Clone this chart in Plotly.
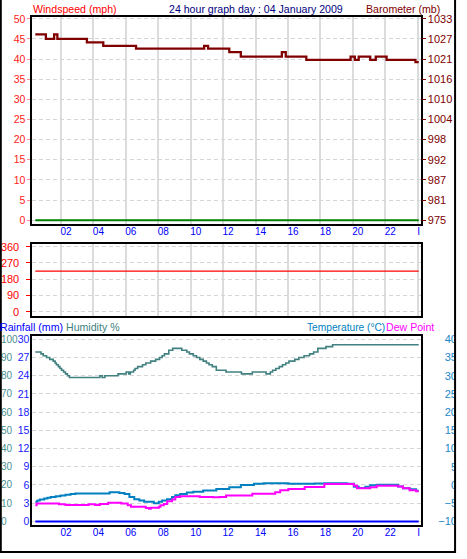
import plotly.graph_objects as go

W, H = 467, 559

# ---------------- data ----------------
hour_ticks = [2, 4, 6, 8, 10, 12, 14, 16, 18, 20, 22, 24]
hour_labels = ["02", "04", "06", "08", "10", "12", "14", "16", "18", "20", "22", "I\u00a0\u00a0\u00a0"]

wind_t = [0.42, 24.06]
wind_v = [0, 0]

baro_t = [0.42, 1.07, 1.58, 1.78, 3.60, 4.61, 6.63, 10.83, 11.07, 12.38, 13.09,
          15.62, 15.86, 17.13, 19.86, 20.12, 20.36, 21.07, 21.41, 22.08, 23.86, 24.06]
baro_v = [1028.5, 1027.2, 1028.5, 1027.2, 1026.2, 1025.2, 1024.4, 1025.2, 1024.4, 1023.4, 1022.1,
          1023.4, 1022.1, 1021.2, 1022.1, 1021.2, 1022.1, 1021.2, 1022.1, 1021.2, 1020.5, 1020.5]

dir_t = [0.42, 24.06]
dir_v = [224, 224]

rain_t = [0.42, 24.06]
rain_v = [0, 0]

hum_t = [0.42, 0.77, 0.91, 1.11, 1.31, 1.52, 1.64, 1.72, 1.84, 1.94, 2.04, 2.16, 2.28, 2.40, 2.52,
         4.40, 4.54, 4.71, 5.52, 6.02, 6.18, 6.28, 6.48, 6.57, 6.73, 7.03, 7.23, 7.53, 7.84, 8.08,
         8.24, 8.38, 8.65, 8.89, 9.45, 9.76, 9.92, 10.16, 10.36, 10.56, 10.77, 10.97, 11.13, 11.33,
         11.58, 12.18, 13.13, 13.80, 14.65, 14.91, 15.05, 15.25, 15.46, 15.66, 15.86, 16.06, 16.42,
         16.67, 16.99, 17.33, 17.58, 17.84, 18.34, 18.75, 24.06]
hum_v = [93, 92, 91, 90, 89, 88, 87, 86, 85, 84, 83, 82, 81, 80, 79,
         80, 79, 80, 81, 82, 81, 82, 83, 84, 85, 86, 87, 88, 89, 90,
         91, 92, 94, 95, 94, 93, 92, 91, 90, 89, 88, 87, 86, 85,
         83, 82, 81, 82, 81, 82, 83, 84, 85, 86, 87, 88, 89,
         90, 91, 92, 93, 95, 96, 97, 97]

temp_t = [0.42, 0.55, 0.70, 0.97, 1.17, 1.37, 1.68, 1.98, 2.28, 2.59, 2.89, 5.00, 5.60, 5.92,
          6.22, 6.52, 6.83, 7.13, 7.73, 8.03, 8.24, 8.54, 8.85, 9.05, 9.35, 9.76, 10.16, 10.77,
          11.58, 12.38, 13.09, 13.90, 14.50, 16.02, 17.64, 18.24, 19.65, 20.06, 20.36, 20.77,
          21.07, 21.47, 22.79, 23.09, 23.50, 23.90, 24.06]
temp_v = [-4.6, -4.3, -4.0, -3.7, -3.5, -3.3, -3.1, -2.9, -2.7, -2.5, -2.35, -2.0, -2.2, -2.5,
          -3.3, -3.9, -4.3, -4.6, -5.0, -4.6, -4.3, -3.9, -3.3, -2.85, -2.5, -2.1, -1.85, -1.5,
          -1.1, -0.6, -0.03, 0.33, 0.5, 0.33, 0.4, 0.5, 0.33, -0.5, -0.85, -0.5,
          -0.1, 0.05, -0.45, -0.9, -1.2, -1.6, -1.6]

dew_t = [0.42, 0.50, 1.88, 2.28, 3.70, 4.10, 4.40, 4.91, 5.72, 6.12, 6.32, 7.23, 7.43, 7.54,
         8.04, 8.14, 8.34, 8.55, 8.85, 9.05, 9.35, 10.56, 11.37, 11.78, 12.18, 13.80, 15.21,
         15.52, 16.02, 17.03, 18.24, 20.06, 20.26, 21.07, 21.47, 22.79, 23.09, 23.50, 23.90, 24.06]
dew_v = [-5.6, -5.1, -5.3, -5.5, -5.3, -5.5, -5.25, -4.9, -5.1, -5.6, -6.0, -6.3, -6.5, -6.25,
         -6.0, -5.6, -5.2, -4.5, -4.0, -3.3, -3.1, -3.3, -3.35, -3.3, -2.9, -2.4, -2.0,
         -1.45, -1.1, -0.55, 0.3, -0.2, -0.9, -0.6, -0.2, -0.45, -0.9, -1.45, -1.7, -1.7]

wind_ticks = list(range(0, 51, 5))
baro_ticks = [975 + 5.8 * k for k in range(11)]
baro_labels = ["975", "981", "987", "992", "998", "1004", "1010", "1016", "1021", "1027", "1033"]
dir_ticks = [0, 90, 180, 270, 360]
compass_labels = ["N", "E", "S", "W", "N"]
rain_ticks = list(range(0, 31, 3))
hum_ticks = list(range(0, 101, 10))
temp_ticks = list(range(-10, 41, 5))

# ---------------- geometry helpers ----------------
FONT = "Liberation Sans"


def px_x(p):
    return p / W


def px_y(p):
    return (H - p) / H


X_DOM = [px_x(33), px_x(428)]
X_RANGE = [0.242, 24.18]
P1 = [px_y(222), px_y(13)]
P2 = [px_y(315), px_y(243)]
P3 = [px_y(527), px_y(336)]

fig = go.Figure()

fig.add_trace(go.Scatter(x=wind_t, y=wind_v, xaxis="x", yaxis="y", mode="lines",
                         line=dict(color="#008000", width=2)))
fig.add_trace(go.Scatter(x=baro_t, y=baro_v, xaxis="x", yaxis="y2", mode="lines",
                         line=dict(color="#800000", width=2.3, shape="hv")))
fig.add_trace(go.Scatter(x=dir_t, y=dir_v, xaxis="x2", yaxis="y3", mode="lines",
                         line=dict(color="#ff0000", width=1.3)))
fig.add_trace(go.Scatter(x=rain_t, y=rain_v, xaxis="x3", yaxis="y5", mode="lines",
                         line=dict(color="#0000ff", width=2)))
fig.add_trace(go.Scatter(x=hum_t, y=hum_v, xaxis="x3", yaxis="y6", mode="lines",
                         line=dict(color="#408080", width=1.6, shape="hv")))
fig.add_trace(go.Scatter(x=temp_t, y=temp_v, xaxis="x3", yaxis="y7", mode="lines",
                         line=dict(color="#0080c0", width=2, shape="hv")))
fig.add_trace(go.Scatter(x=dew_t, y=dew_v, xaxis="x3", yaxis="y7", mode="lines",
                         line=dict(color="#ff00ff", width=2, shape="hv")))

frame = dict(showline=True, mirror=True, linecolor="black", linewidth=2, zeroline=False)
vgrid = dict(showgrid=True, gridcolor="#dcdcdc", gridwidth=2)
hgrid = dict(showgrid=True, gridcolor="#d6d6d6", gridwidth=1, griddash="4px,3px")
xtickfont = dict(family=FONT, size=10, color="#0000ff")


def ytickfont(c, s=11):
    return dict(family=FONT, size=s, color=c)


fig.update_layout(
    width=W, height=H, autosize=False,
    margin=dict(l=0, r=0, t=0, b=0),
    paper_bgcolor="white", plot_bgcolor="white",
    showlegend=False,
    xaxis=dict(domain=X_DOM, range=X_RANGE, anchor="y", tickmode="array",
               tickvals=hour_ticks, ticktext=hour_labels, ticks="", tickfont=xtickfont,
               ticklabelshift=5, ticklabelstandoff=-3, **vgrid, **frame),
    xaxis2=dict(domain=X_DOM, range=X_RANGE, anchor="y3", matches="x", tickvals=hour_ticks,
                showticklabels=False, ticks="", **vgrid, **frame),
    xaxis3=dict(domain=X_DOM, range=X_RANGE, anchor="y5", matches="x", tickmode="array",
                tickvals=hour_ticks, ticktext=hour_labels, ticks="", tickfont=xtickfont,
                ticklabelshift=5, ticklabelstandoff=-3, showgrid=False, **frame),
    yaxis=dict(domain=P1, range=[-0.86, 50.49], anchor="x", tickvals=wind_ticks,
               ticks="outside", ticklen=3, tickcolor="#ff9090", tickwidth=1,
               tickfont=ytickfont("#ff1a1a", 10.5), **hgrid, **frame),
    yaxis2=dict(overlaying="y", side="right", anchor="x", range=[975 - 0.86 * 1.16, 975 + 50.49 * 1.16],
                tickvals=baro_ticks, ticktext=baro_labels, ticks="outside", ticklen=4,
                tickcolor="#800000", tickfont=ytickfont("#800000"), showgrid=False,
                zeroline=False, showline=False),
    yaxis3=dict(domain=P2, range=[-22, 372.5], anchor="x2", tickvals=dir_ticks,
                ticks="outside", ticklen=4, tickcolor="#ff0000",
                tickfont=ytickfont("#ff0000"), ticklabelstandoff=5, **hgrid, **frame),
    yaxis4=dict(overlaying="y3", side="right", anchor="x2", range=[-22, 372.5],
                tickvals=dir_ticks, ticktext=compass_labels, ticks="",
                tickfont=dict(family=FONT, size=12, color="#ff0000"), ticklabelstandoff=4,
                showgrid=False, zeroline=False, showline=False),
    yaxis5=dict(domain=P3, range=[-0.65, 30.49], anchor="x3", tickvals=rain_ticks, ticks="",
                tickfont=ytickfont("#2020ff", 10.5), ticklabelstandoff=-1, **hgrid, **frame),
    yaxis6=dict(overlaying="y5", anchor="free", position=0.0, side="right",
                range=[-2.2, 101.6], tickvals=hum_ticks, ticks="",
                tickfont=ytickfont("#4a9090", 10), showgrid=False, zeroline=False, showline=False),
    yaxis7=dict(overlaying="y5", anchor="free", position=1.0, side="left",
                range=[-11.09, 40.82], tickvals=temp_ticks, ticks="", ticklabelstandoff=2,
                tickfont=ytickfont("#1a88c8"), showgrid=False, zeroline=False, showline=False),
)


def label(text, x, y_center, color, anchor="left", size=10.6):
    fig.add_annotation(text=text, xref="paper", yref="paper", x=px_x(x), y=px_y(y_center),
                       xanchor=anchor, yanchor="middle", showarrow=False,
                       font=dict(family=FONT, size=size, color=color))


label("Windspeed (mph)", 32, 5.5, "#ff0000")
label("24 hour graph day : 04 January 2009", 170, 5.5, "#000080")
label("Barometer (mb)", 370, 5.5, "#800000")
label("Rainfall (mm)", -2, 327, "#0000ff")
label("Humidity %", 65, 327, "#408080")
label("Temperature (°C)", 394, 327, "#0080c0", anchor="right", size=10.2)
label("Dew Point", 391, 327, "#ff00ff")

# clip area right of the outer frame, then outer frame
fig.add_shape(type="rect", xref="paper", yref="paper", x0=px_x(464), x1=px_x(470),
              y0=px_y(565), y1=px_y(-5), fillcolor="white", line=dict(width=0), layer="above")
fig.add_shape(type="rect", xref="paper", yref="paper", x0=px_x(0.8), x1=px_x(463),
              y0=px_y(554), y1=px_y(-5), fillcolor="rgba(0,0,0,0)",
              line=dict(color="black", width=2), layer="above")

fig.write_html(
    "out.html",
    config={"displayModeBar": False, "responsive": False},
    post_script=("document.body.style.margin='0';document.body.style.padding='0';"
                 "document.body.style.overflow='hidden';"
                 "document.documentElement.style.overflow='hidden';"),
)
